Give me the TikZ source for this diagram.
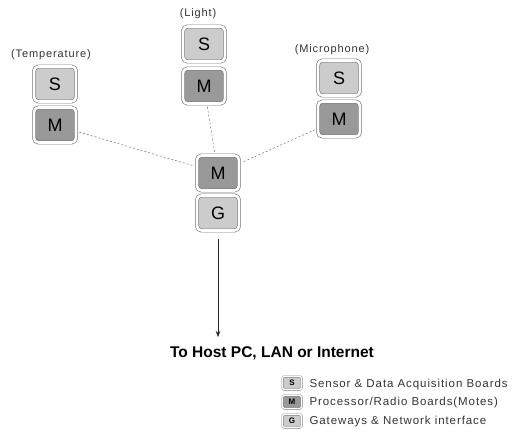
\documentclass[tikz,border=0pt]{standalone}
\usepackage{fontspec}
\setmainfont{Liberation Sans}
\newfontfamily\lightfont[LetterSpace=8]{Liberation Sans}
\usetikzlibrary{arrows.meta}
\begin{document}
\begin{tikzpicture}[x=1pt,y=-1pt,
  board/.style={rounded corners=4.5pt, draw=black!55, line width=0.6pt, double=white, double distance=2.6pt,
    minimum width=42pt, minimum height=35pt, inner sep=0pt, font=\fontsize{18}{18}\selectfont, text=black},
  sboard/.style={board, fill=black!20},
  mboard/.style={board, fill=black!40},
  gboard/.style={board, fill=black!20},
  lbl/.style={font=\lightfont\fontsize{11}{13}\selectfont, text=black!80},
  link/.style={draw=black!55, dash pattern=on 2pt off 2pt, line width=0.5pt, shorten <=3pt, shorten >=3pt},
  icon/.style={rounded corners=1.5pt, draw=black!55, line width=0.4pt, double=white, double distance=1.2pt,
    minimum width=19pt, minimum height=13pt, inner sep=0pt, font=\bfseries\fontsize{8}{8}\selectfont},
  legtext/.style={anchor=west, font=\lightfont\fontsize{11.5}{13}\selectfont, text=black!80}
]
\useasboundingbox (0,0) rectangle (527,432);

% Temperature
\node[lbl] (tL) at (51,55) {(Temperature)};
\node[sboard] (tS) at (55,84) {S};
\node[mboard] (tM) at (55,125) {M};

% Light
\node[lbl] (lL) at (198,14) {(Light)};
\node[sboard] (lS) at (204,44) {S};
\node[mboard] (lM) at (204,86) {M};

% Microphone
\node[lbl] (mL) at (332,50) {(Microphone)};
\node[sboard] (mS) at (339,78) {S};
\node[mboard] (mM) at (339,119) {M};

% Center gateway
\node[mboard] (cM) at (218,173) {M};
\node[gboard] (cG) at (218,213) {G};

% links
\draw[link] (tM) -- (cM);
\draw[link] (lM) -- (cM);
\draw[link] (mM) -- (cM);

% arrow to host
\coordinate (hostend) at (218,337);
\draw[black!85, line width=0.6pt, shorten <=8pt, -{Stealth[length=6pt,width=4.5pt]}] (cG) -- (hostend);
\node[font=\bfseries\fontsize{15.5}{18}\selectfont] (host) at (272,353) {To Host PC, LAN or Internet};

% legend
\node[icon, fill=black!20] (iS) at (292,383) {S};
\node[icon, fill=black!40] (iM) at (292,402) {M};
\node[icon, fill=black!20] (iG) at (292,421) {G};
\node[legtext] (tS1) at (306,385) {Sensor \& Data Acquisition Boards};
\node[legtext] (tM1) at (306,403) {Processor/Radio Boards(Motes)};
\node[legtext] (tG1) at (306,422) {Gateways \& Network interface};
\end{tikzpicture}
\end{document}
